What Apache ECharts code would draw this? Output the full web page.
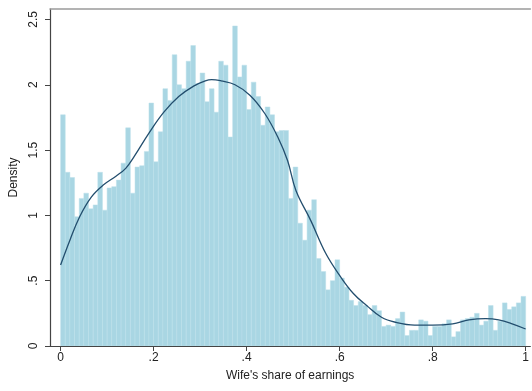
<!DOCTYPE html>
<html>
<head>
<meta charset="utf-8">
<script src="https://cdn.jsdelivr.net/npm/echarts@6/dist/echarts.min.js"></script>
<style>
  html, body { margin: 0; padding: 0; background: #fff; }
  #chart { width: 532px; height: 391px; }
</style>
</head>
<body>
<div id="chart"></div>
<script>
// Histogram of wife's share of couple earnings (100 bins of width .01) with kernel density
const binWidth = 0.01;
const densities = [
  1.77, 1.33, 1.29, 0.99, 1.13, 1.17, 1.05, 1.08, 1.33, 1.04,
  1.21, 1.22, 1.27, 1.40, 1.67, 1.17, 1.37, 1.38, 1.49, 1.86,
  1.41, 1.64, 1.97, 1.88, 2.23, 2.00, 1.97, 2.18, 2.30, 2.01,
  2.09, 1.87, 1.97, 1.79, 2.18, 2.15, 1.60, 2.45, 2.06, 2.15,
  1.81, 2.02, 1.91, 1.69, 1.83, 1.77, 1.64, 1.65, 1.65, 1.13,
  1.37, 0.94, 0.81, 1.04, 1.12, 0.67, 0.57, 0.43, 0.50, 0.66,
  0.52, 0.45, 0.35, 0.31, 0.34, 0.31, 0.24, 0.31, 0.27, 0.15,
  0.16, 0.15, 0.21, 0.26, 0.08, 0.12, 0.12, 0.20, 0.19, 0.08,
  0.15, 0.15, 0.17, 0.20, 0.07, 0.11, 0.20, 0.21, 0.22, 0.25,
  0.16, 0.19, 0.31, 0.12, 0.19, 0.33, 0.28, 0.30, 0.33, 0.38
];

// Kernel density estimate
const kdeX = [0, 0.02, 0.041, 0.066, 0.091, 0.119, 0.14, 0.158, 0.19, 0.222,
  0.254, 0.286, 0.311, 0.325, 0.345, 0.375, 0.407, 0.439, 0.467, 0.488,
  0.506, 0.538, 0.57, 0.602, 0.63, 0.658, 0.69, 0.722, 0.761, 0.80,
  0.843, 0.878, 0.914, 0.942, 0.971, 1.0];
const kdeY = [0.62, 0.81, 0.99, 1.14, 1.23, 1.30, 1.36, 1.45, 1.63, 1.79,
  1.91, 1.99, 2.03, 2.04, 2.03, 2.00, 1.92, 1.78, 1.60, 1.42,
  1.19, 0.96, 0.71, 0.53, 0.40, 0.31, 0.22, 0.18, 0.16, 0.16,
  0.17, 0.20, 0.21, 0.20, 0.17, 0.13];

const xTicks = [0, 0.2, 0.4, 0.6, 0.8, 1];
const yTicks = [0, 0.5, 1, 1.5, 2, 2.5];

const fmt = v => {
  const s = String(Math.round(v * 10) / 10);
  return s.startsWith('0.') ? s.slice(1) : s;
};

const bins = densities.map((d, i) => [i * binWidth, (i + 1) * binWidth, d]);
const kde = kdeX.map((x, i) => [x, kdeY[i]]);

const font = "'Liberation Sans', Arial, sans-serif";
const xMin = -0.0228, xMax = 1.01;
const chart = echarts.init(document.getElementById('chart'), null, { renderer: 'canvas' });

chart.setOption({
  animation: false,
  backgroundColor: '#fff',
  grid: { left: 50, top: 9, width: 486, bottom: 45 },
  xAxis: [
    {
      type: 'value',
      min: xMin, max: xMax,
      name: "Wife's share of earnings",
      nameLocation: 'middle',
      nameGap: 24,
      nameTextStyle: { fontFamily: font, fontSize: 12, color: '#222' },
      splitLine: { show: false },
      axisLine: { show: true, onZero: false, lineStyle: { color: '#444', width: 1.2 } },
      axisTick: { show: true, length: 5, customValues: xTicks, lineStyle: { color: '#444' } },
      axisLabel: { customValues: xTicks, formatter: fmt, fontFamily: font, fontSize: 12, color: '#222', margin: 6 }
    },
    {
      // plain frame line along the top of the plot region
      type: 'value',
      position: 'top',
      min: xMin, max: xMax,
      splitLine: { show: false },
      axisLine: { show: true, onZero: false, lineStyle: { color: '#9a9a9a', width: 1.5 } },
      axisTick: { show: false },
      axisLabel: { show: false }
    }
  ],
  yAxis: {
    type: 'value',
    min: 0, max: 2.58,
    name: 'Density',
    nameLocation: 'middle',
    nameGap: 28,
    nameTextStyle: { fontFamily: font, fontSize: 12, color: '#222' },
    splitLine: { show: false },
    axisLine: { show: true, onZero: false, lineStyle: { color: '#444', width: 1.2 } },
    axisTick: { show: true, length: 5, customValues: yTicks, lineStyle: { color: '#444' } },
    axisLabel: { customValues: yTicks, formatter: fmt, rotate: 90, fontFamily: font, fontSize: 12, color: '#222', margin: 10 }
  },
  series: [
    {
      type: 'custom',
      data: bins,
      renderItem: (params, api) => {
        const p0 = api.coord([api.value(0), 0]);
        const p1 = api.coord([api.value(1), api.value(2)]);
        return {
          type: 'rect',
          shape: { x: p0[0], y: p1[1], width: p1[0] - p0[0], height: p0[1] - p1[1] },
          style: { fill: '#a9d6e3', stroke: '#bde0ea', lineWidth: 0.5 }
        };
      },
      clip: true,
      z: 1
    },
    {
      type: 'line',
      data: kde,
      smooth: 0.4,
      showSymbol: false,
      lineStyle: { color: '#234e6e', width: 1.3 },
      z: 3
    }
  ]
});
</script>
</body>
</html>
